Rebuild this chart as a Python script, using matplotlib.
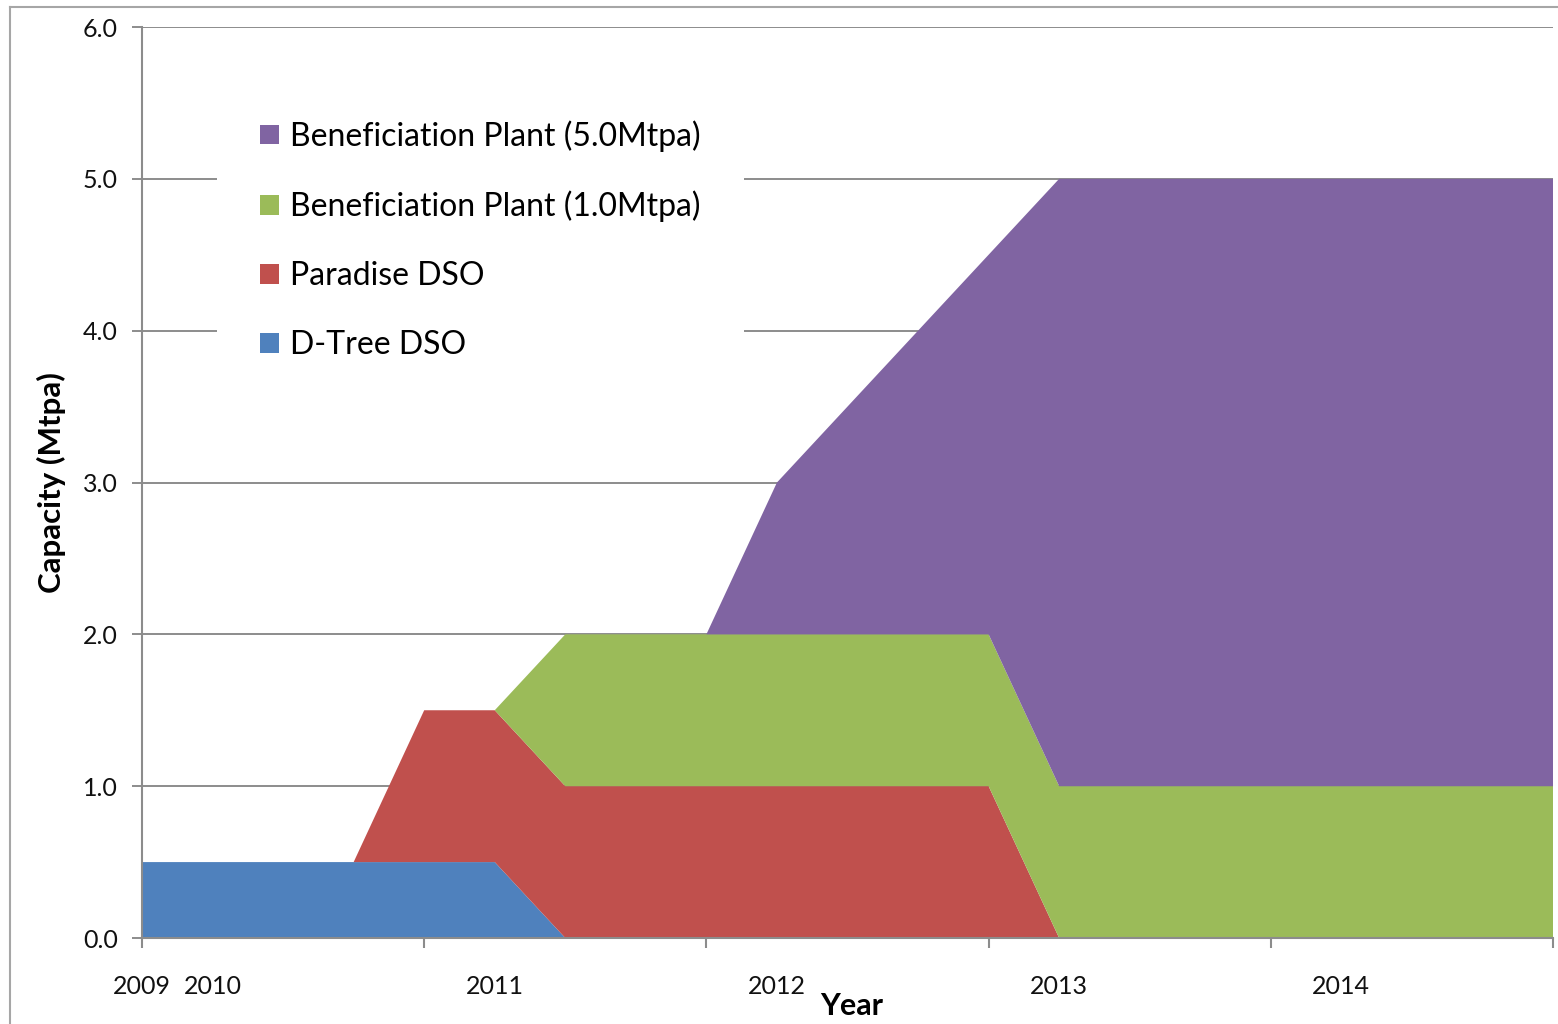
import matplotlib
matplotlib.use("Agg")
import matplotlib.pyplot as plt
from matplotlib.lines import Line2D
import numpy as np

# ---------------- data (quarterly points) ----------------
periods = ["2009", "2010", "", "", "", "2011", "", "", "", "2012", "", "",
           "", "2013", "", "", "", "2014", "", "", ""]
d_tree_dso = [0.5, 0.5, 0.5, 0.5, 0.5, 0.5, 0, 0, 0, 0, 0, 0,
              0, 0, 0, 0, 0, 0, 0, 0, 0]
paradise_dso = [0, 0, 0, 0, 1.0, 1.0, 1.0, 1.0, 1.0, 1.0, 1.0, 1.0,
                1.0, 0, 0, 0, 0, 0, 0, 0, 0]
bp_1mtpa = [0, 0, 0, 0, 0, 0, 1.0, 1.0, 1.0, 1.0, 1.0, 1.0,
            1.0, 1.0, 1.0, 1.0, 1.0, 1.0, 1.0, 1.0, 1.0]
bp_5mtpa = [0, 0, 0, 0, 0, 0, 0, 0, 0, 1.0, 1.5, 2.0,
            2.5, 4.0, 4.0, 4.0, 4.0, 4.0, 4.0, 4.0, 4.0]
series_names = ["D-Tree DSO", "Paradise DSO",
                "Beneficiation Plant (1.0Mtpa)", "Beneficiation Plant (5.0Mtpa)"]
series_colors = ["#4F81BD", "#C0504D", "#9BBB59", "#8064A2"]
y_ticks = [0.0, 1.0, 2.0, 3.0, 4.0, 5.0, 6.0]

# ---------------- figure ----------------
plt.rcParams['font.family'] = ['Lato', 'DejaVu Sans']
W, H = 1558, 1024
fig = plt.figure(figsize=(W / 100, H / 100), dpi=100)
ax = fig.add_axes([142 / W, 1 - 938 / H, (1553 - 142) / W, (938 - 27) / H])

x = np.arange(len(periods))
polys = ax.stackplot(x, d_tree_dso, paradise_dso, bp_1mtpa, bp_5mtpa,
                     colors=series_colors, labels=series_names,
                     linewidth=0, zorder=2)

grid_col = "#8c8c8c"
ax.set_xlim(0, len(periods) - 1)
ax.set_ylim(0, 6)
ax.set_yticks(y_ticks)
ax.set_yticklabels([f"{v:.1f}" for v in y_ticks])
ax.yaxis.grid(True, color=grid_col, linewidth=1.4, zorder=0)
ax.set_axisbelow(True)

# x: tick marks every 4 quarters, labels at each labelled period
ax.xaxis.remove_overlapping_locs = False
ax.set_xticks(np.arange(0, len(periods), 4))
ax.set_xticklabels([])
ax.set_xticks(x, minor=True)
ax.set_xticklabels(periods, minor=True)
ax.tick_params(axis='x', which='major', length=7, width=1.5, color=grid_col,
               direction='out')
ax.tick_params(axis='x', which='minor', length=0, pad=27, labelsize=18,
               labelcolor='#111111')
ax.tick_params(axis='y', length=7.5, width=1.4, color=grid_col, pad=10,
               labelsize=18, labelcolor='#111111')

for s in ['top', 'right']:
    ax.spines[s].set_visible(False)
for s in ['left', 'bottom']:
    ax.spines[s].set_color(grid_col)
    ax.spines[s].set_linewidth(1.5)
    ax.spines[s].set_zorder(3)

ax.set_ylabel("Capacity (Mtpa)", fontsize=22.5, fontweight='bold', labelpad=12)
ax.set_xlabel("Year", fontsize=22, fontweight='bold')
ax.xaxis.set_label_coords(0.5 + 4 / (1553 - 142), -(1015 - 938) / (938 - 27))
ax.xaxis.label.set_va('baseline')

handles, labels = ax.get_legend_handles_labels()
leg = ax.legend(handles[::-1], labels[::-1], loc='upper left',
                bbox_to_anchor=(217 / W, 1 - 77 / H),
                bbox_transform=fig.transFigure, borderaxespad=0,
                fontsize=23, frameon=True, fancybox=False, framealpha=1,
                facecolor='white', edgecolor='none', handlelength=0.58,
                handleheight=0.58, handletextpad=0.35, labelspacing=1.22,
                borderpad=1.35)
leg.set_zorder(5)

# outer chart border (left and top edges visible)
border_col = "#a6a6a6"
fig.add_artist(Line2D([10 / W, 10 / W], [0, 1 - 7 / H], color=border_col,
                      linewidth=1.5, transform=fig.transFigure))
fig.add_artist(Line2D([10 / W, 1], [1 - 7 / H, 1 - 7 / H], color=border_col,
                      linewidth=1.5, transform=fig.transFigure))

fig.savefig("out.png", dpi=100, facecolor='white')
